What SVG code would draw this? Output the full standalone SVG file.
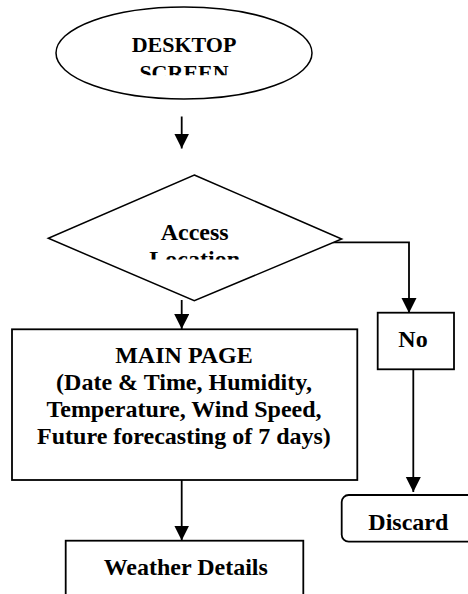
<svg xmlns="http://www.w3.org/2000/svg" width="468" height="594" viewBox="0 0 468 594">
  <style>
    .shape { fill: #fff; stroke: #000; stroke-width: 1.8; }
    .thin { fill: #fff; stroke: #000; stroke-width: 1.5; }
    .lbl { font-family: 'Liberation Serif', serif !important; font-weight: bold; fill: #000; text-anchor: middle; }
    .edge { fill: none; stroke: #000; stroke-width: 1.8; }
  </style>
  <defs>
    <marker id="arrow" markerUnits="userSpaceOnUse" markerWidth="16" markerHeight="16" refX="15" refY="7.5" orient="auto">
      <path d="M0,0 L15,7.5 L0,15 Z" fill="#000"/>
    </marker>
    <clipPath id="clip-start"><rect x="0" y="0" width="468" height="75.3"/></clipPath>
    <clipPath id="clip-access"><rect x="0" y="0" width="468" height="259.5"/></clipPath>
  </defs>
  <rect width="468" height="594" fill="#fff"/>

  <!-- connectors -->
  <g id="connectors">
    <line class="edge" x1="181.7" y1="116.5" x2="181.7" y2="148.5" marker-end="url(#arrow)"/>
    <line class="edge" x1="181.7" y1="300" x2="181.7" y2="329" marker-end="url(#arrow)"/>
    <polyline class="edge" points="333,242.3 409,242.3 409,313" marker-end="url(#arrow)"/>
    <line class="edge" x1="413.3" y1="369.3" x2="413.3" y2="492" marker-end="url(#arrow)"/>
    <line class="edge" x1="181.7" y1="480" x2="181.7" y2="540.5" marker-end="url(#arrow)"/>
  </g>

  <!-- start -->
  <g id="node-desktop">
    <ellipse class="thin" cx="184" cy="53" rx="128" ry="46"/>
    <g clip-path="url(#clip-start)">
      <text class="lbl" x="184" y="51.7" style="font-family:'Liberation Serif',serif;font-size:22px">DESKTOP</text>
      <text class="lbl" x="184" y="80" style="font-family:'Liberation Serif',serif;font-size:22px">SCREEN</text>
    </g>
  </g>

  <!-- decision -->
  <g id="node-access">
    <polygon class="thin" points="194.3,175 341.7,239 194.3,300.7 48.3,238.3"/>
    <g clip-path="url(#clip-access)">
      <text class="lbl" x="194.7" y="240" style="font-family:'Liberation Serif',serif;font-size:24px">Access</text>
      <text class="lbl" x="194.7" y="267" style="font-family:'Liberation Serif',serif;font-size:24px">Location</text>
    </g>
  </g>

  <!-- main page -->
  <g id="node-main">
    <rect class="shape" x="12" y="329.3" width="345.3" height="150.7"/>
    <text class="lbl" x="184" y="362.7" style="font-family:'Liberation Serif',serif;font-size:24px">MAIN PAGE</text>
    <text class="lbl" x="184" y="389.6" style="font-family:'Liberation Serif',serif;font-size:24px">(Date &amp; Time, Humidity,</text>
    <text class="lbl" x="184" y="416.5" style="font-family:'Liberation Serif',serif;font-size:24px">Temperature, Wind Speed,</text>
    <text class="lbl" x="184" y="443.5" style="font-family:'Liberation Serif',serif;font-size:24px">Future forecasting of 7 days)</text>
  </g>

  <!-- no -->
  <g id="node-no">
    <rect class="shape" x="377.7" y="312.7" width="76.3" height="56.6"/>
    <text class="lbl" x="413" y="346.7" style="font-family:'Liberation Serif',serif;font-size:24px">No</text>
  </g>

  <!-- discard -->
  <g id="node-discard">
    <rect class="shape" x="341.7" y="495" width="140" height="46.7" rx="7" ry="7"/>
    <text class="lbl" x="408.3" y="530" style="font-family:'Liberation Serif',serif;font-size:24px">Discard</text>
  </g>

  <!-- weather details -->
  <g id="node-weather">
    <rect class="shape" x="65.7" y="540.7" width="237.6" height="70"/>
    <text class="lbl" x="185.8" y="575" style="font-family:'Liberation Serif',serif;font-size:24px">Weather Details</text>
  </g>
</svg>
